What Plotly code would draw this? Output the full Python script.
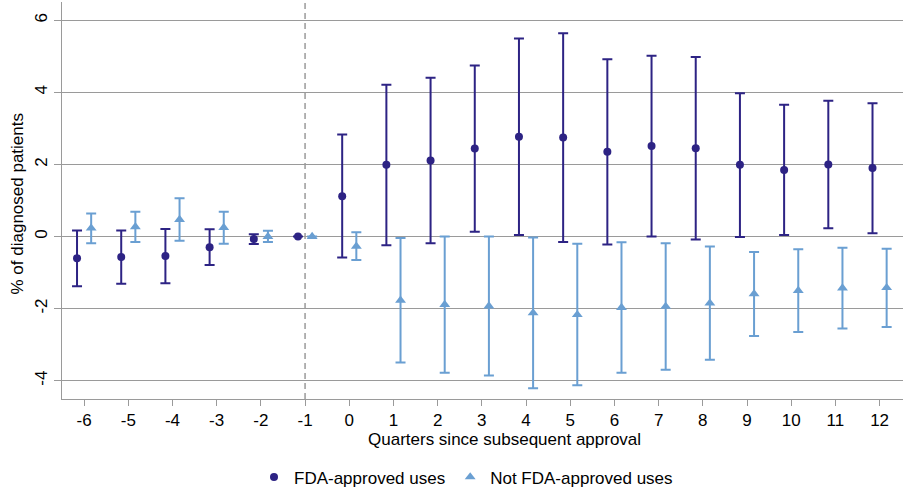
import plotly.graph_objects as go

# Event-study estimates with 95% confidence bounds, by quarter since approval
quarters = list(range(-6, 13))

fda_est = [-0.60, -0.57, -0.54, -0.30, -0.07, 0.00, 1.12, 1.99, 2.11, 2.44, 2.77,
           2.75, 2.35, 2.51, 2.45, 1.99, 1.85, 2.00, 1.90]
fda_lower = [-1.38, -1.31, -1.30, -0.79, -0.21, 0.00, -0.58, -0.24, -0.19, 0.13, 0.04,
             -0.15, -0.22, 0.00, -0.08, -0.01, 0.04, 0.23, 0.09]
fda_upper = [0.17, 0.17, 0.21, 0.20, 0.06, 0.00, 2.83, 4.21, 4.41, 4.75, 5.50,
             5.64, 4.92, 5.02, 4.98, 3.98, 3.66, 3.77, 3.70]

off_est = [0.23, 0.27, 0.47, 0.25, 0.00, 0.00, -0.27, -1.77, -1.89, -1.93, -2.12,
           -2.17, -1.97, -1.94, -1.85, -1.59, -1.50, -1.43, -1.42]
off_lower = [-0.19, -0.15, -0.12, -0.20, -0.15, 0.00, -0.65, -3.50, -3.78, -3.86, -4.21,
             -4.13, -3.78, -3.70, -3.42, -2.76, -2.65, -2.55, -2.51]
off_upper = [0.64, 0.69, 1.06, 0.69, 0.16, 0.00, 0.12, -0.04, 0.00, 0.00, -0.03,
             -0.20, -0.16, -0.19, -0.28, -0.43, -0.35, -0.31, -0.34]

series_names = ["FDA-approved uses", "Not FDA-approved uses"]
approval_quarter = -1
y_ticks = [-4, -2, 0, 2, 4, 6]

DARK = "#2d2384"
LIGHT = "#6a9fd2"
GRID = "#9a9a9a"
FONT = "Liberation Sans, Arial, Helvetica, sans-serif"
FS = 17

W, H = 907, 497
ML, MR, MT, MB = 62, 4, 2, 95
DODGE = 0.16

fig = go.Figure()


def add_series(name, est, lower, upper, shift, symbol, size, color):
    fig.add_trace(go.Scatter(
        x=[q + shift for q in quarters],
        y=est,
        mode="markers",
        name=name,
        marker=dict(symbol=symbol, size=size, color=color, line=dict(width=0)),
        error_y=dict(
            type="data",
            symmetric=False,
            array=[u - e for u, e in zip(upper, est)],
            arrayminus=[e - l for e, l in zip(est, lower)],
            color=color,
            thickness=2,
            width=5,
        ),
    ))


add_series(series_names[0], fda_est, fda_lower, fda_upper, -DODGE, "circle", 8, DARK)
add_series(series_names[1], off_est, off_lower, off_upper, DODGE, "triangle-up", 9.5, LIGHT)

# Vertical reference line at the last pre-approval quarter
fig.add_shape(type="line", xref="x", yref="paper",
              x0=approval_quarter, x1=approval_quarter, y0=0, y1=1,
              line=dict(color=GRID, width=1.5, dash="6px,4px"), layer="below")

plot_w = W - ML - MR
plot_h = H - MT - MB

fig.update_layout(
    width=W, height=H,
    margin=dict(l=ML, r=MR, t=MT, b=MB),
    paper_bgcolor="white", plot_bgcolor="white",
    font=dict(family=FONT, size=FS, color="black"),
    showlegend=True,
    legend=dict(orientation="h", x=(466 - ML) / plot_w, xanchor="center",
                y=(plot_h + MT - 481) / plot_h, yanchor="middle",
                font=dict(size=FS), itemwidth=30, bgcolor="rgba(0,0,0,0)"),
    xaxis=dict(range=[-6.5, 12.53], tickvals=quarters,
               ticktext=[str(q) for q in quarters], ticks="outside", ticklen=6,
               tickcolor=GRID, tickwidth=1, showline=True, linecolor=GRID, linewidth=1,
               showgrid=False, zeroline=False, tickfont=dict(size=FS)),
    yaxis=dict(range=[-4.51, 6.51], tickvals=y_ticks,
               ticktext=[str(v) for v in y_ticks], tickangle=-90, ticks="outside",
               ticklen=7, tickcolor=GRID, tickwidth=1, showline=True, linecolor=GRID,
               linewidth=1, showgrid=True, gridcolor=GRID, gridwidth=1, zeroline=False,
               tickfont=dict(size=FS)),
    annotations=[
        dict(text="Quarters since subsequent approval", xref="paper", yref="paper",
             x=(504 - ML) / plot_w, y=(plot_h + MT - 443) / plot_h,
             xanchor="center", yanchor="middle", showarrow=False, font=dict(size=FS)),
        dict(text="% of diagnosed patients", xref="paper", yref="paper",
             x=(17 - ML) / plot_w, y=(plot_h + MT - 206) / plot_h, textangle=-90,
             xanchor="center", yanchor="middle", showarrow=False, font=dict(size=FS)),
    ],
)

fig.write_html("out.html")
